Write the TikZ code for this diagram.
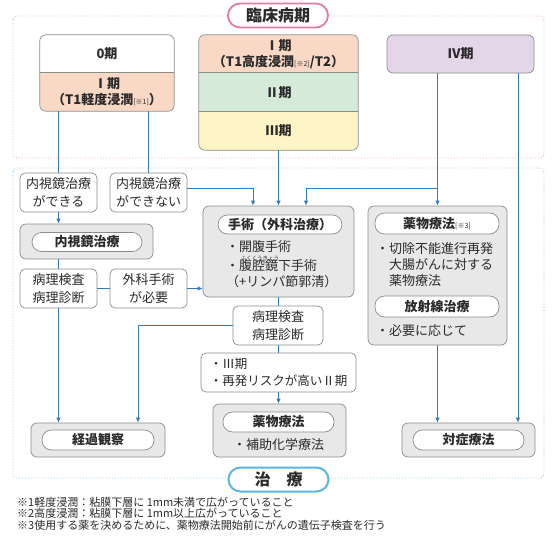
\documentclass[tikz,border=0pt]{standalone}
\usepackage{fontspec}
\setmainfont{Noto Sans CJK JP}
\usepackage{tikz}
\usetikzlibrary{arrows.meta}
\definecolor{flowc}{HTML}{3478BE}
\definecolor{edgec}{HTML}{8C8C8C}
\definecolor{panelc}{HTML}{E8E8E8}
\definecolor{inkc}{HTML}{2A2A2A}
\definecolor{salmon}{HTML}{FAD8C6}
\definecolor{mint}{HTML}{D6EAD9}
\definecolor{cream}{HTML}{FEF5C6}
\definecolor{lilac}{HTML}{E5D5E9}
\definecolor{pinkc}{HTML}{E27BA2}
\definecolor{dotpink}{HTML}{EFA6BF}
\definecolor{skyc}{HTML}{5AB5E2}
\definecolor{dotsky}{HTML}{8EC6E8}
\newcommand{\smallnote}[1]{{\mdseries\fontsize{7}{7}\selectfont[#1]}}

\begin{document}
\begin{tikzpicture}[x=1pt, y=-1pt,
sect/.style={inner sep=0pt, align=center, font=\bfseries\fontsize{13}{16}\selectfont, text=inkc},
edgeline/.style={draw=edgec, line width=0.7pt},
wbox/.style={edgeline, fill=white, rounded corners=5pt, align=center, inner sep=0pt, minimum width=77pt, minimum height=39pt, font=\fontsize{13}{18}\selectfont, text=inkc},
gbox/.style={edgeline, fill=panelc, rounded corners=6pt, inner sep=0pt},
pill/.style={edgeline, fill=white, rounded corners=9.5pt, inner sep=0pt, minimum height=19pt, font=\bfseries\fontsize{13}{16}\selectfont, text=inkc},
txt/.style={inner sep=0pt, align=left, font=\fontsize{13}{16}\selectfont, text=inkc},
note/.style={inner sep=0pt, anchor=west, font=\fontsize{11}{11}\selectfont, text=inkc},
flow/.style={draw=flowc, line width=0.8pt},
arr/.style={flow, -{Latex[length=5pt,width=4.5pt]}}
]
\useasboundingbox (0,0) rectangle (556,535);
% dotted areas
\draw[dotpink, dotted, line width=0.9pt, rounded corners=4pt] (13,16) rectangle (544,158);
\draw[dotsky, dotted, line width=0.9pt, rounded corners=4pt] (13,168) rectangle (544,478);
\node[draw=pinkc, line width=1.8pt, fill=white, rounded corners=12pt, minimum width=100pt, minimum height=24pt, inner sep=0pt, font=\bfseries\fontsize{16}{16}\selectfont, text=inkc] (stagelbl) at (278,15.5) {臨床病期};
\node[draw=skyc, line width=2pt, fill=white, rounded corners=12pt, minimum width=100pt, minimum height=24pt, inner sep=0pt, font=\bfseries\fontsize{16}{16}\selectfont, text=inkc] (treatlbl) at (278.5,479.5) {治　療};
% stages
\begin{scope}
\clip[rounded corners=6pt] (40,35) rectangle (174,111);
\node[sect, fill=white, minimum width=134pt, minimum height=38pt] (o0) at (107,54) {0期};
\node[sect, fill=salmon, minimum width=134pt, minimum height=38pt] (o1) at (107,92) {Ⅰ期\\（T1軽度浸潤\smallnote{※1}）};
\end{scope}
\draw[edgeline, rounded corners=6pt] (o0.north west) rectangle (o1.south east);
\draw[edgeline] (o1.north west) -- (o1.north east);
\begin{scope}
\clip[rounded corners=6pt] (199,35) rectangle (358,150);
\node[sect, fill=salmon, minimum width=159pt, minimum height=38pt] (s1) at (278.5,54) {Ⅰ期\\（T1高度浸潤\smallnote{※2}/T2）};
\node[sect, fill=mint, minimum width=159pt, minimum height=39pt] (s2) at (278.5,92.5) {Ⅱ期};
\node[sect, fill=cream, minimum width=159pt, minimum height=38pt] (s3) at (278.5,131) {Ⅲ期};
\end{scope}
\draw[edgeline, rounded corners=6pt] (s1.north west) rectangle (s3.south east);
\draw[edgeline] (s2.north west) -- (s2.north east);
\draw[edgeline] (s3.north west) -- (s3.north east);
\node[sect, edgeline, fill=lilac, rounded corners=6pt, minimum width=147pt, minimum height=38pt] (iv) at (460.5,54) {Ⅳ期};
% treatment boxes
\node[wbox] (canA) at (58.5,192.5) {内視鏡治療\\ができる};
\node[wbox] (canB) at (148.5,192.5) {内視鏡治療\\ができない};
\node[gbox, minimum width=133pt, minimum height=35pt] (endo) at (86.5,241.5) {};
\node[pill, minimum width=110pt] (endoT) at (87,242) {内視鏡治療};
\node[wbox] (pathA) at (58.5,288.5) {病理検査\\病理診断};
\node[wbox] (need) at (148.5,288.5) {外科手術\\が必要};
\node[gbox, minimum width=151pt, minimum height=91pt] (surg) at (278.5,251.5) {};
\node[pill, minimum width=124pt] (surgT) at (280,224.5) {手術（外科治療）};
\node[txt, anchor=north west] (surgL) at (226,240.5) {・開腹手術\\[3pt]・腹腔鏡下手術\\（+リンパ節郭清）};
\node[inner sep=0pt, font=\fontsize{5.5}{5.5}\selectfont, text=inkc] (ruby) at (260,258) {ふくくうきょう};
\node[gbox, minimum width=139pt, minimum height=139pt] (drug) at (437.5,275.5) {};
\node[pill, minimum width=124pt, minimum height=21pt] (drugT) at (437,223.5) {薬物療法\smallnote{※3}};
\node[txt, anchor=north west] (drugL) at (376,242.5) {・切除不能進行再発\\\hphantom{・}大腸がんに対する\\\hphantom{・}薬物療法};
\node[pill, minimum width=124pt, minimum height=21pt] (radT) at (437,306.5) {放射線治療};
\node[txt, anchor=west] (radL) at (376,331) {・必要に応じて};
\node[wbox, minimum width=90pt] (patho) at (278,325.5) {病理検査\\病理診断};
\node[wbox, minimum width=155pt, align=left, font=\fontsize{12.5}{17}\selectfont] (risk) at (278.5,372.5) {・Ⅲ期\\・再発リスクが高いⅡ期};
\node[gbox, minimum width=133pt, minimum height=53pt] (adj) at (279.5,430.5) {};
\node[pill, minimum width=111pt, minimum height=20pt] (adjT) at (278.5,422) {薬物療法};
\node[txt] (adjL) at (278.5,445) {・補助化学療法};
\node[gbox, minimum width=134pt, minimum height=34pt] (obs) at (98,440) {};
\node[pill, minimum width=112pt, minimum height=20pt] (obsT) at (98,440) {経過観察};
\node[gbox, minimum width=133pt, minimum height=34pt] (symp) at (468.5,440) {};
\node[pill, minimum width=111pt, minimum height=20pt] (sympT) at (468.5,440) {対症療法};
% connectors
\draw[flow] (o1.south -| canA.north) -- (canA.north);
\draw[flow] (canB.north |- o1.south) -- (canB.north);
\draw[arr] (canA.south) -- (canA.south |- endo.north);
\draw[flow] (endo.south -| pathA.north) -- (pathA.north);
\draw[flow] (pathA.east) -- (need.west);
\draw[arr] (need.east) -- (need.east -| surg.west);
\draw[arr] (pathA.south) -- (pathA.south |- obs.north);
\draw[arr] ([yshift=4.5pt]canB.east) -| ([xshift=-25.5pt]surg.north);
\draw[arr] (s3.south) -- (s3.south |- surg.north);
\coordinate (split) at (437.5,188);
\draw[flow] (iv.south -| split) -- (split);
\draw[arr] (split) -- (split |- drug.north);
\draw[arr] (split) -| ([xshift=27.5pt]surg.north);
\draw[arr] ([xshift=57.5pt]iv.south) -- ([xshift=57.5pt]iv.south |- symp.north);
\draw[arr] (drug.south) -- (drug.south |- symp.north);
\draw[flow] (surg.south) -- (surg.south |- patho.north);
\draw[arr] (patho.west) -| ([xshift=40pt]obs.north);
\draw[flow] (patho.south) -- (patho.south |- risk.north);
\draw[arr] (risk.south) -- (risk.south |- adj.north);
% notes
\node[note] (n1) at (17,502) {※1軽度浸潤：粘膜下層に 1mm未満で広がっていること};
\node[note] (n2) at (17,513.5) {※2高度浸潤：粘膜下層に 1mm以上広がっていること};
\node[note] (n3) at (17,525) {※3使用する薬を決めるために、薬物療法開始前にがんの遺伝子検査を行う};
\end{tikzpicture}
\end{document}
